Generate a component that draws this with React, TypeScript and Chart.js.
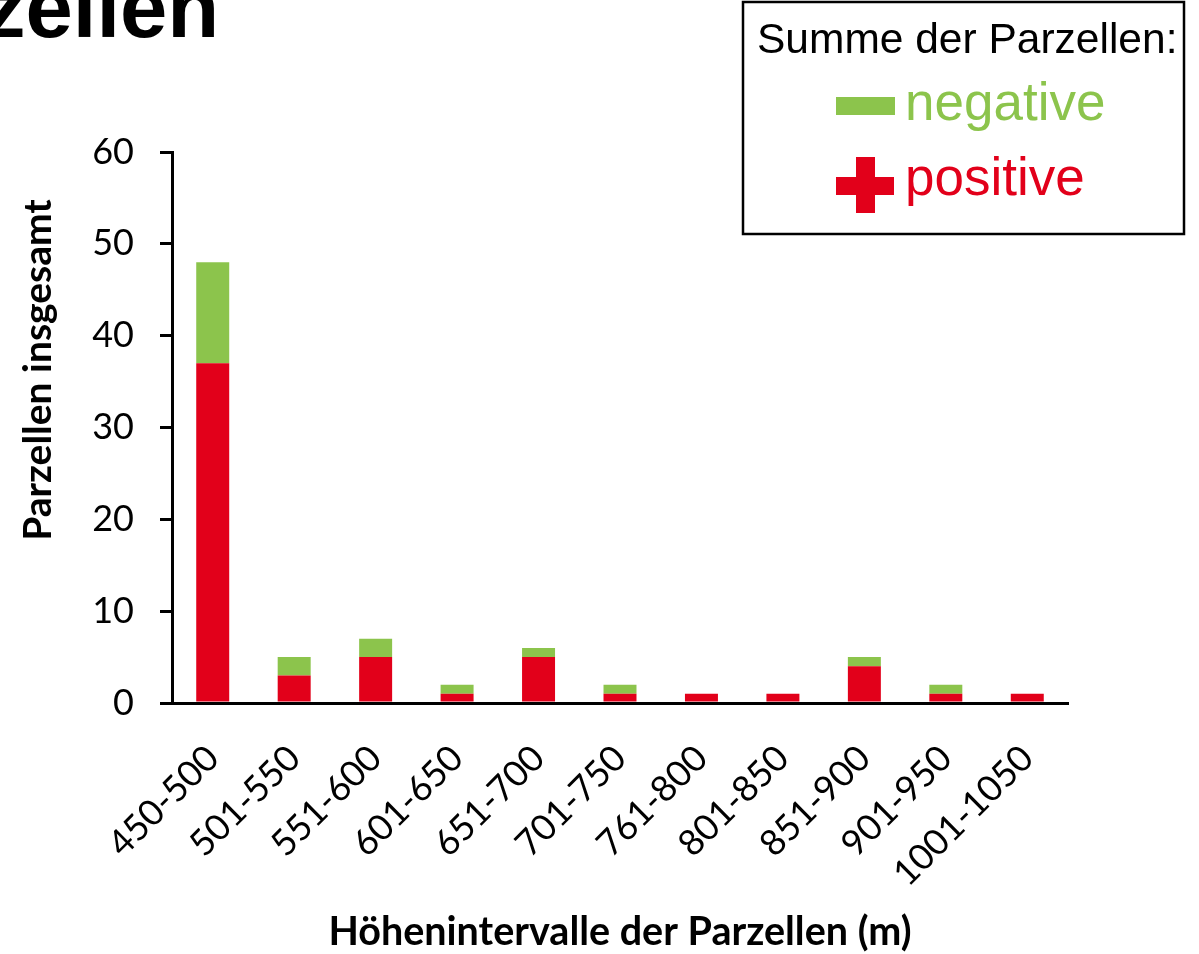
import React, { useEffect, useRef } from "react";
import { Chart, registerables } from "chart.js";

Chart.register(...registerables);

const categories = [
  "450-500",
  "501-550",
  "551-600",
  "601-650",
  "651-700",
  "701-750",
  "761-800",
  "801-850",
  "851-900",
  "901-950",
  "1001-1050",
];
const positiveValues = [37, 3, 5, 1, 5, 1, 1, 1, 4, 1, 1];
const negativeValues = [11, 2, 2, 1, 1, 1, 0, 0, 1, 1, 0];
const yTickValues = [0, 10, 20, 30, 40, 50, 60];

const titleText = "zellen";
const yTitle = "Parzellen insgesamt";
const xTitle = "Höhenintervalle der Parzellen (m)";
const legendTitle = "Summe der Parzellen:";
const legendNegative = "negative";
const legendPositive = "positive";

const RED = "#E2001A";
const GREEN = "#8CC44C";
const TICK_FONT = "Lato";

const overlayPlugin = {
  id: "overlay",
  afterDraw(chart: any) {
    const ctx: CanvasRenderingContext2D = chart.ctx;
    ctx.save();
    ctx.fillStyle = "#000";
    ctx.textAlign = "left";
    ctx.textBaseline = "alphabetic";

    // Cropped page title
    ctx.font = "bold 85px 'Liberation Sans', Arial, sans-serif";
    ctx.fillText(titleText, -17, 37);

    // Y axis title
    ctx.save();
    ctx.font = `bold 39px ${TICK_FONT}`;
    ctx.translate(51, 370);
    ctx.rotate(-Math.PI / 2);
    ctx.textAlign = "center";
    ctx.fillText(yTitle, 0, 0);
    ctx.restore();

    // X axis title
    ctx.font = `bold 39.5px ${TICK_FONT}`;
    ctx.textAlign = "center";
    ctx.fillText(xTitle, 620, 945);

    // Legend box
    ctx.strokeStyle = "#000";
    ctx.lineWidth = 2.5;
    ctx.strokeRect(743, 2, 441, 232);

    ctx.textAlign = "left";
    ctx.font = "42.5px 'Liberation Sans', Arial, sans-serif";
    ctx.fillStyle = "#000";
    ctx.fillText(legendTitle, 757, 53);

    ctx.fillStyle = GREEN;
    ctx.fillRect(836, 97, 59, 18);
    ctx.font = "53px 'Liberation Sans', Arial, sans-serif";
    ctx.fillText(legendNegative, 905, 120);

    ctx.fillStyle = RED;
    ctx.fillRect(856, 157, 19, 56);
    ctx.fillRect(836, 177, 58, 18);
    ctx.fillText(legendPositive, 905, 195);

    ctx.restore();
  },
};

export default function App() {
  const canvasRef = useRef<HTMLCanvasElement | null>(null);

  useEffect(() => {
    const canvas = canvasRef.current;
    if (!canvas) return;
    const chart = new Chart(canvas, {
      type: "bar",
      data: {
        labels: categories,
        datasets: [
          {
            label: legendPositive,
            data: positiveValues,
            backgroundColor: RED,
            borderWidth: 0,
          },
          {
            label: legendNegative,
            data: negativeValues,
            backgroundColor: GREEN,
            borderWidth: 0,
          },
        ],
      },
      options: {
        responsive: false,
        animation: false,
        devicePixelRatio: 1,
        categoryPercentage: 1,
        barPercentage: 0.405,
        layout: { padding: { left: 0, right: 131, top: 152, bottom: 0 } },
        plugins: {
          legend: { display: false },
          tooltip: { enabled: false },
          title: { display: false },
        },
        scales: {
          x: {
            stacked: true,
            grid: { display: true, drawOnChartArea: false, drawTicks: false },
            border: { display: true, color: "#000", width: 3 },
            ticks: {
              color: "#000",
              font: { family: TICK_FONT, size: 36 },
              minRotation: 45,
              maxRotation: 45,
              autoSkip: false,
              padding: 34,
            },
            afterFit: (s: any) => {
              s.height = 251;
            },
          },
          y: {
            stacked: true,
            min: 0,
            max: 60,
            grid: {
              display: true,
              drawOnChartArea: false,
              drawTicks: true,
              tickLength: 12,
              color: "#000",
              lineWidth: 3,
            },
            border: { display: true, color: "#000", width: 3 },
            ticks: {
              stepSize: 10,
              color: "#000",
              font: { family: TICK_FONT, size: 36 },
              padding: 26,
            },
            afterBuildTicks: (s: any) => {
              s.ticks = yTickValues.map((v) => ({ value: v }));
            },
            afterFit: (s: any) => {
              s.width = 172;
            },
          },
        },
      },
      plugins: [overlayPlugin],
    });
    return () => chart.destroy();
  }, []);

  return (
    <div
      style={{
        position: "fixed",
        left: 0,
        top: 0,
        width: 1199,
        height: 954,
        background: "#fff",
      }}
    >
      <canvas
        ref={canvasRef}
        width={1199}
        height={954}
        style={{ display: "block", width: 1199, height: 954 }}
      />
    </div>
  );
}
